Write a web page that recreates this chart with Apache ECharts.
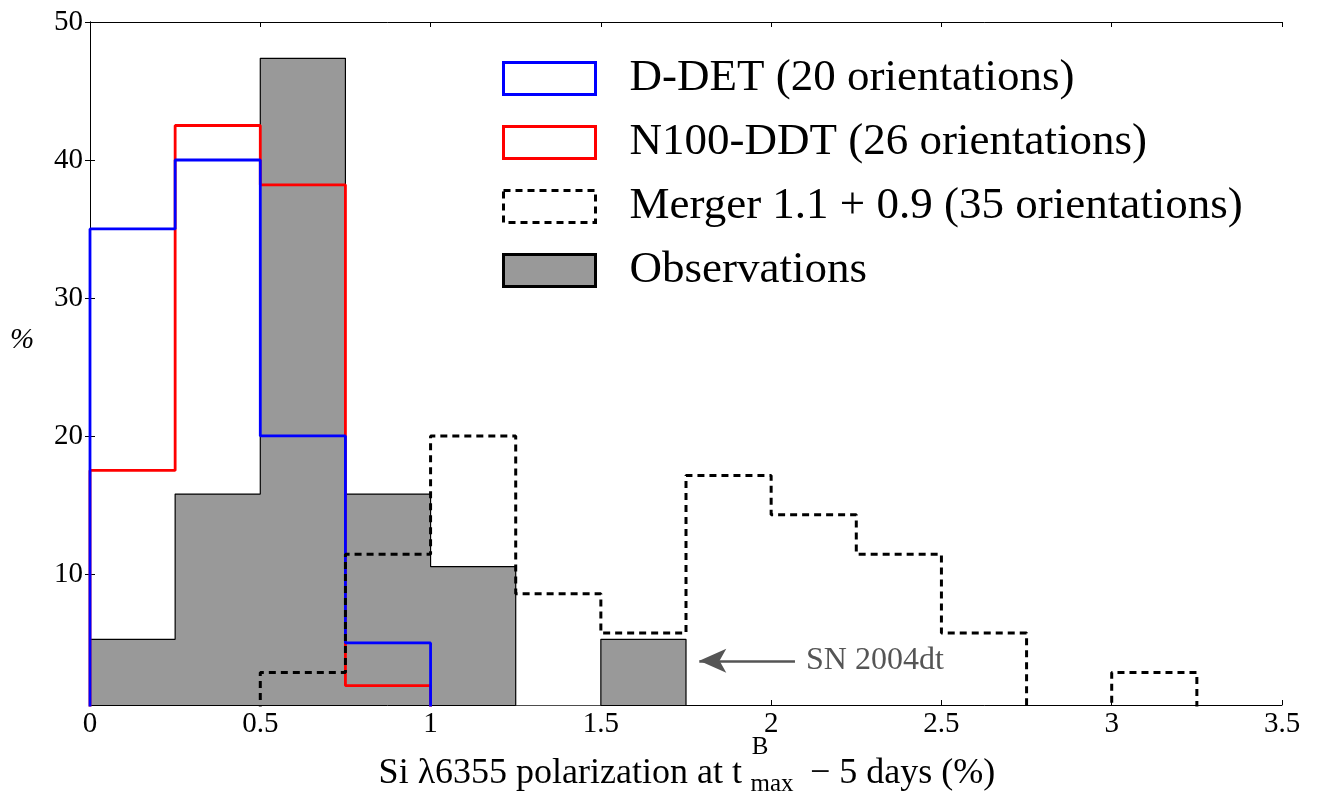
<!DOCTYPE html>
<html>
<head>
<meta charset="utf-8">
<title>Si 6355 polarization histogram</title>
<script src="https://cdn.jsdelivr.net/npm/echarts@6/dist/echarts.min.js"></script>
<style>
  html, body { margin: 0; padding: 0; background: #fff; }
  #chart { width: 1324px; height: 798px; }
</style>
</head>
<body>
<div id="chart"></div>
<script>
// Histogram bins are 0.25 % wide; each series lists its bin heights (%) from its first bin.
const binWidth = 0.25;

const dDetName = 'D-DET (20 orientations)';
const dDetStart = 0;
const dDet = [35, 40, 20, 5];

const n100Name = 'N100-DDT (26 orientations)';
const n100Start = 0;
const n100 = [17.5, 42.5, 38.2, 1.9];

const mergerName = 'Merger 1.1 + 0.9 (35 orientations)';
const mergerStart = 0.5;
const merger = [2.86, 11.43, 20.0, 8.57, 5.71, 17.14, 14.29, 11.43, 5.71, 0, 2.86];

const obsName = 'Observations';
const obsStart = 0;
const obs = [5.26, 15.79, 47.37, 15.79, 10.53, 0, 5.26];

const xTicks = [0, 0.5, 1, 1.5, 2, 2.5, 3, 3.5];
const yTicks = [10, 20, 30, 40, 50];

// SN 2004dt note: arrow from the label back to its bin
const noteText = 'SN 2004dt';
const noteFrom = [2.07, 3.7];
const noteTo = [1.789, 3.7];

const serif = '"Liberation Serif", "DejaVu Serif", serif';

// outline of a step histogram: up from zero, across each bin, back down at the end
function stepOutline(start, values) {
  const pts = [[start, 0]];
  values.forEach(function (v, i) {
    pts.push([start + i * binWidth, v]);
    pts.push([start + (i + 1) * binWidth, v]);
  });
  pts.push([start + values.length * binWidth, 0]);
  return pts;
}

const chart = echarts.init(document.getElementById('chart'), null, { renderer: 'canvas' });

const axisLine = { show: true, lineStyle: { color: '#000', width: 1 } };
const innerTick = { show: true, inside: true, length: 5, lineStyle: { color: '#000', width: 1 } };

const option = {
  animation: false,
  backgroundColor: '#fff',
  grid: { left: 90, right: 42, top: 22, bottom: 93, containLabel: false },
  xAxis: [
    {
      type: 'value', min: 0, max: 3.5, interval: 0.5, position: 'bottom',
      axisLine: axisLine, axisTick: innerTick, splitLine: { show: false },
      axisLabel: { color: '#000', fontFamily: serif, fontSize: 29, margin: 5 }
    },
    {
      type: 'value', min: 0, max: 3.5, interval: 0.5, position: 'top',
      axisLine: axisLine, axisTick: innerTick, splitLine: { show: false },
      axisLabel: { show: false }
    }
  ],
  yAxis: [
    {
      type: 'value', min: 0.5, max: 50, position: 'left',
      axisLine: axisLine, splitLine: { show: false },
      axisTick: Object.assign({ customValues: yTicks }, innerTick),
      axisLabel: { customValues: yTicks, color: '#000', fontFamily: serif, fontSize: 29, margin: 7 }
    },
    {
      type: 'value', min: 0.5, max: 50, position: 'right',
      axisLine: axisLine, splitLine: { show: false },
      axisTick: Object.assign({ customValues: yTicks }, innerTick),
      axisLabel: { show: false, customValues: yTicks }
    }
  ],
  legend: {
    show: true,
    orient: 'vertical',
    left: 497,
    top: 51,
    icon: 'rect',
    itemWidth: 92,
    itemHeight: 32,
    itemGap: 19,
    selectedMode: false,
    textStyle: { color: '#000', fontFamily: serif, fontSize: 45, padding: [0, 0, 0, 29] },
    data: [
      { name: dDetName, icon: 'rect', itemStyle: { color: '#fff', borderColor: '#0000ff', borderWidth: 3 } },
      { name: n100Name, icon: 'rect', itemStyle: { color: '#fff', borderColor: '#ff0000', borderWidth: 3 } },
      { name: mergerName, icon: 'rect', itemStyle: { color: '#fff', borderColor: '#000', borderWidth: 3, borderType: [7, 5] } },
      { name: obsName, icon: 'rect', itemStyle: { color: '#999999', borderColor: '#000', borderWidth: 3 } }
    ]
  },
  series: [
    {
      name: obsName, type: 'line', data: stepOutline(obsStart, obs),
      showSymbol: false, symbol: 'none', clip: true, z: 2,
      lineStyle: { color: '#000', width: 1.2 },
      areaStyle: { color: '#999999', opacity: 1, origin: 'start' },
      itemStyle: { color: '#999999' },
      markLine: {
        silent: true,
        symbol: ['none', 'arrow'],
        symbolSize: [18, 27],
        lineStyle: { color: '#555', width: 2.5, type: 'solid' },
        label: {
          show: true, position: 'start', distance: 11, formatter: noteText,
          color: '#555', fontFamily: serif, fontSize: 32
        },
        data: [[{ coord: noteFrom }, { coord: noteTo }]]
      }
    },
    {
      name: n100Name, type: 'line', data: stepOutline(n100Start, n100),
      showSymbol: false, symbol: 'none', clip: true, z: 3,
      lineStyle: { color: '#ff0000', width: 2.8 }, itemStyle: { color: '#ff0000' }
    },
    {
      name: dDetName, type: 'line', data: stepOutline(dDetStart, dDet),
      showSymbol: false, symbol: 'none', clip: true, z: 4,
      lineStyle: { color: '#0000ff', width: 2.8 }, itemStyle: { color: '#0000ff' }
    },
    {
      name: mergerName, type: 'line', data: stepOutline(mergerStart, merger),
      showSymbol: false, symbol: 'none', clip: true, z: 5,
      lineStyle: { color: '#000', width: 3, type: [7, 5] }, itemStyle: { color: '#000' }
    }
  ],
  graphic: [
    {
      type: 'text', left: 10, top: 326,
      style: { text: '%', font: 'italic 29px ' + serif, fill: '#000' }
    },
    {
      type: 'group',
      children: [
        { type: 'text', x: 742, y: 774,
          style: { text: 'Si \u03bb6355 polarization at t', font: '36px ' + serif, fill: '#000', align: 'right', verticalAlign: 'middle' } },
        { type: 'text', x: 760, y: 747,
          style: { text: 'B', font: '25px ' + serif, fill: '#000', align: 'center', verticalAlign: 'middle' } },
        { type: 'text', x: 772, y: 784,
          style: { text: 'max', font: '25px ' + serif, fill: '#000', align: 'center', verticalAlign: 'middle' } },
        { type: 'text', x: 810, y: 774,
          style: { text: '\u2212 5 days (%)', font: '36px ' + serif, fill: '#000', align: 'left', verticalAlign: 'middle' } }
      ]
    }
  ]
};

chart.setOption(option);
</script>
</body>
</html>
